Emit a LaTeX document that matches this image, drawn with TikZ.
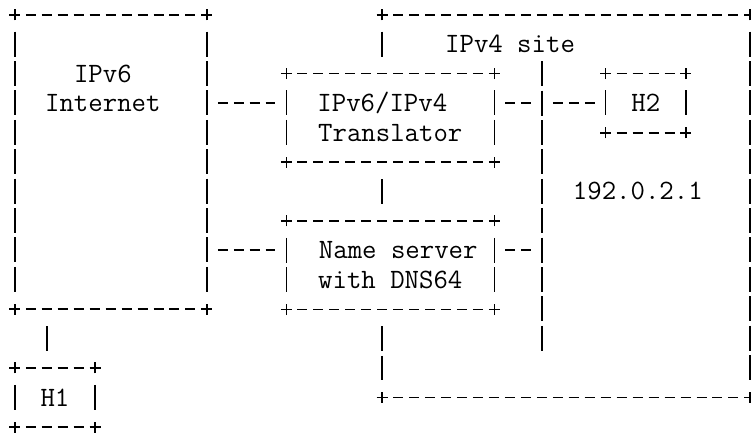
\documentclass[tikz,border=0pt]{standalone}
\usetikzlibrary{positioning,shapes.misc}

\newcommand\cw{15.97pt}
\newcommand\rh{29.4pt}

\tikzset{
  box/.style={rectangle, inner sep=0pt},
  txt/.style={inner sep=0pt, text height=17.1pt, text depth=0pt},
  hdash/.style={line width=1.5pt, dash pattern=on 10pt off 5.97pt, shorten <=10.97pt, shorten >=10.97pt},
  vdash/.style={line width=1.5pt, dash pattern=on 25pt off 4.4pt, shorten <=16.9pt, shorten >=16.9pt},
  vbar/.style={line width=1.5pt, dash pattern=on 25pt off 4.4pt},
  plus/.style={line width=1.5pt},
}

\begin{document}
\begin{tikzpicture}[x=\cw, y=-\rh, font=\ttfamily\fontsize{28}{29.4}\selectfont]
  \useasboundingbox (-0.939,-0.510) rectangle (46.087,14.252);

  % Define nodes
  \node[box, minimum width=12*\cw, minimum height=10*\rh] (inet) at (6,5) {};
  \node[box, minimum width=23*\cw, minimum height=13*\rh] (site) at (34.5,6.5) {};
  \node[box, minimum width=13*\cw, minimum height=3*\rh] (trans) at (23.5,3.5) {};
  \node[box, minimum width=13*\cw, minimum height=3*\rh, below=58.8pt of trans] (dns) {};
  \node[box, minimum width=5*\cw, minimum height=2*\rh] (h2) at (39.5,3) {};
  \node[box, minimum width=5*\cw, minimum height=2*\rh, below right=58.8pt and 0pt of inet.south west] (h1) {};
  \coordinate (bustop) at (33,1.575);
  \coordinate (busbot) at (33,11.425);

  % Labels
  \node[txt] (inet6) at (5.5,2) {IPv6};
  \node[txt] (inetname) at (5.5,3) {Internet};
  \node[txt] (trans46) at (23,3) {IPv6/IPv4};
  \node[txt] (transname) at (23.5,4) {Translator};
  \node[txt] (dnsname) at (24,8) {Name server};
  \node[txt] (dns64) at (23.5,9) {with DNS64};
  \node[txt] (sitename) at (31,1) {IPv4 site};
  \node[txt] (h2addr) at (39,6) {192.0.2.1};
  \node[txt] (h2name) at (h2) {H2};
  \node[txt] (h1name) at (h1) {H1};

  % Boxes
  \foreach \b in {inet,trans,dns,h2,h1} {
    \draw[hdash] (\b.north west) -- (\b.north east);
    \draw[hdash] (\b.south west) -- (\b.south east);
    \draw[vdash] (\b.north west) -- (\b.south west);
    \draw[vdash] (\b.north east) -- (\b.south east);
  }
  \draw[hdash] (site.north west) -- (site.north east);
  \draw[hdash] (site.south west) -- (site.south east);
  \draw[vdash] (site.north east) -- (site.south east);
  \draw[vdash] (site.north west) -- (site.west |- trans.north);
  \draw[vdash] (site.west |- trans.south) -- (site.west |- dns.north);
  \draw[vdash] (site.west |- dns.south) -- (site.south west);

  % Corners
  \foreach \b in {inet,site,trans,dns,h2,h1}
    \foreach \k in {north west,north east,south west,south east}
      \draw[plus] (\b.\k) +(-5.5pt,0) -- +(5.5pt,0) +(0,-5.5pt) -- +(0,5.5pt);

  % Links
  \draw[hdash] (inet.east |- 0,3) -- (trans.west |- 0,3);
  \draw[hdash] (trans.east |- 0,3) -- (bustop |- 0,3);
  \draw[hdash] (bustop |- h2.west) -- (h2.west);
  \draw[hdash] (inet.east |- 0,8) -- (dns.west |- 0,8);
  \draw[hdash] (dns.east |- 0,8) -- (bustop |- 0,8);
  \draw[vbar] (bustop) -- (busbot);
  \draw[vdash] (inet.south -| 2,0) -- (h1.north -| 2,0);

\end{tikzpicture}
\end{document}
